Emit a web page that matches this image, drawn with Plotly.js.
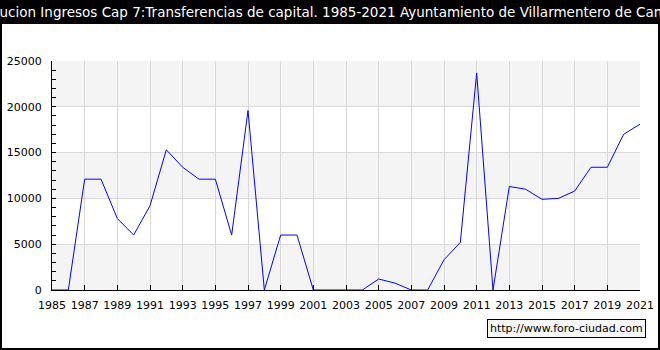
<!DOCTYPE html>
<html>
<head>
<meta charset="utf-8">
<script src="https://cdn.plot.ly/plotly-3.0.1.min.js"></script>
<style>html,body{margin:0;padding:0;background:#fff;}#chart{width:660px;height:350px;}</style>
</head>
<body>
<div id="chart"></div>
<script>
const years = [1985,1986,1987,1988,1989,1990,1991,1992,1993,1994,1995,1996,1997,1998,1999,2000,2001,2002,2003,2004,2005,2006,2007,2008,2009,2010,2011,2012,2013,2014,2015,2016,2017,2018,2019,2020,2021];
const values = [0,0,12100,12100,7800,6000,9200,15300,13400,12100,12100,6000,19600,0,6000,6000,0,0,0,0,1200,750,0,0,3300,5200,23700,0,11300,11000,9900,10000,10800,13400,13400,17000,18100];
const titleText = "Evolucion Ingresos Cap 7:Transferencias de capital. 1985-2021 Ayuntamiento de Villarmentero de Campos";
const watermark = "http://www.foro-ciudad.com";
const yTicks = [0,5000,10000,15000,20000,25000];
const bands = [[0,5000],[10000,15000],[20000,25000]];

// page geometry helpers (pixels -> paper)
const L = 52, R = 640, T = 61, B = 290;
const px = X => (X - L) / (R - L);
const py = Y => (B - Y) / (B - T);

const shapes = [];
bands.forEach(b => shapes.push({type:'rect', xref:'paper', yref:'y', x0:0, x1:1, y0:b[0], y1:b[1], fillcolor:'#f4f4f4', line:{width:0}, layer:'below'}));
shapes.push({type:'rect', xref:'paper', yref:'paper', x0:px(0), x1:px(660), y0:py(0), y1:py(23), fillcolor:'#000', line:{width:0}, layer:'above'});
shapes.push({type:'rect', xref:'paper', yref:'paper', x0:px(1), x1:px(659), y0:py(23), y1:py(349), fillcolor:'rgba(0,0,0,0)', line:{color:'#000', width:2}, layer:'above'});

const data = [{
  x: years, y: values, type:'scatter', mode:'lines',
  line:{color:'#0000ff', width:1}, hoverinfo:'skip'
}];

const layout = {
  width:660, height:350,
  margin:{l:L, r:660-R, t:T, b:350-B},
  paper_bgcolor:'#fff', plot_bgcolor:'rgba(0,0,0,0)',
  showlegend:false,
  font:{family:'DejaVu Sans, sans-serif', size:11, color:'#000'},
  xaxis:{
    range:[1985,2021], tick0:1985, dtick:2, tickmode:'linear',
    showgrid:true, gridcolor:'#d8d8d8', gridwidth:1,
    showline:true, linecolor:'#000', linewidth:1,
    ticks:'inside', ticklen:5, tickcolor:'#000',
    ticklabelstandoff:5,
    tickfont:{family:'DejaVu Sans, sans-serif', size:11, color:'#000'},
    zeroline:false, fixedrange:true
  },
  yaxis:{
    range:[0,25000], tickvals:yTicks, ticktext:yTicks.map(String),
    showgrid:true, gridcolor:'#d8d8d8', gridwidth:1,
    showline:true, linecolor:'#000', linewidth:1,
    ticks:'inside', ticklen:4, tickcolor:'#000',
    minor:{dtick:1000, tick0:0, ticks:'inside', ticklen:4, tickcolor:'#000', showgrid:false},
    ticklabelstandoff:7,
    tickfont:{family:'DejaVu Sans, sans-serif', size:11, color:'#000'},
    zeroline:false, fixedrange:true
  },
  shapes: shapes,
  annotations:[
    {text:titleText, xref:'paper', yref:'paper', x:px(331), y:py(11.5), xanchor:'center', yanchor:'middle', showarrow:false,
     font:{family:'DejaVu Sans, sans-serif', size:13.5, color:'#fff'}},
    {text:watermark, xref:'paper', yref:'paper', x:px(566), y:py(328), xanchor:'center', yanchor:'middle', showarrow:false,
     font:{family:'DejaVu Sans, sans-serif', size:11, color:'#000'}, bgcolor:'#f8f8f8', bordercolor:'#000', borderwidth:1, borderpad:2}
  ]
};

Plotly.newPlot('chart', data, layout, {displayModeBar:false, staticPlot:true});
</script>
</body>
</html>
